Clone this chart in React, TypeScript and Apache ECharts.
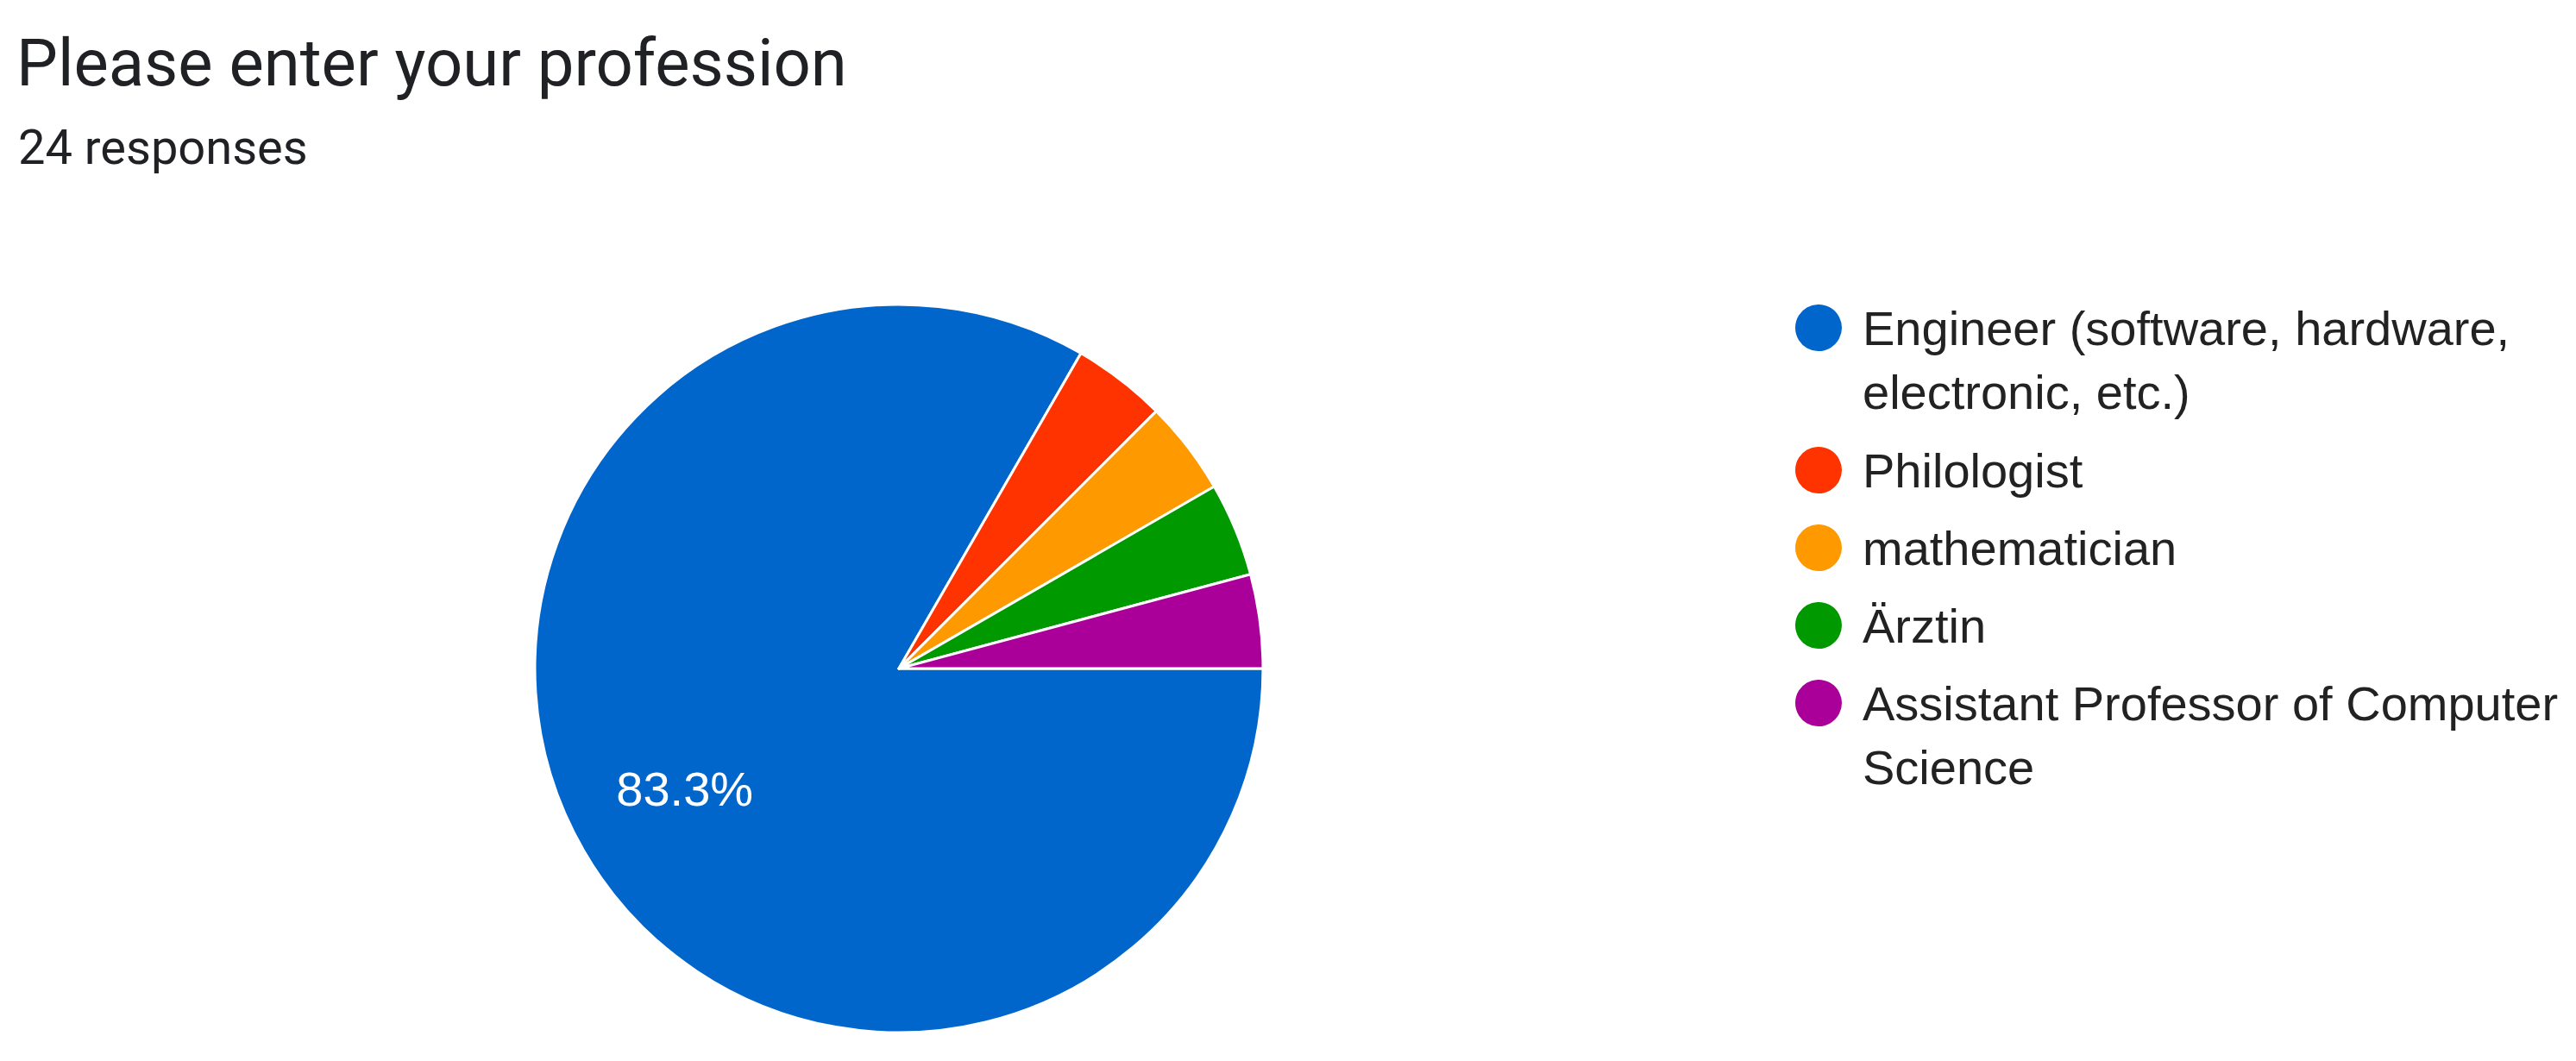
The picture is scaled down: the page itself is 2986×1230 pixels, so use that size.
import React, { useEffect, useRef } from 'react';
import * as echarts from 'echarts';

const professions = [
  'Engineer (software, hardware, electronic, etc.)',
  'Philologist',
  'mathematician',
  'Ärztin',
  'Assistant Professor of Computer Science',
];
const responses = [20, 1, 1, 1, 1];
const legendLabels = [
  'Engineer (software, hardware,\nelectronic, etc.)',
  'Philologist',
  'mathematician',
  'Ärztin',
  'Assistant Professor of Computer\nScience',
];
const sliceColors = ['#0066CC', '#FF3300', '#FF9900', '#009900', '#AA0099'];
const chartTitle = 'Please enter your profession';

export default function App() {
  const ref = useRef<HTMLDivElement>(null);

  useEffect(() => {
    document.body.style.margin = '0';
    if (!ref.current) return;
    const chart = echarts.init(ref.current, undefined, { renderer: 'svg' });
    const total = responses.reduce((a, b) => a + b, 0);

    const LEG_LEFT = 2079;
    const LINE_H = 74;
    const firstCenter = 380;
    const rowStep = 90;
    const twoLineExtra = 75;
    const centers: number[] = [];
    let c = firstCenter;
    professions.forEach((_, i) => {
      centers.push(c);
      const lines = legendLabels[i].split('\n').length;
      c += rowStep + (lines - 1) * twoLineExtra;
    });

    const legends = professions.map((name, i) => {
      const lines = legendLabels[i].split('\n').length;
      // pad above with empty lines so the first line is centred on the marker
      const totalLines = lines * 2 - 1;
      const halfBox = (LINE_H * totalLines) / 2;
      return {
        orient: 'vertical',
        left: LEG_LEFT,
        top: centers[i] - Math.max(halfBox, 28),
        padding: 0,
        itemWidth: 56,
        itemHeight: 56,
        icon: 'circle',
        selectedMode: false,
        data: [{ name }],
        formatter: (n: string) => {
          const lbl = legendLabels[professions.indexOf(n)];
          const k = lbl.split('\n').length;
          return '\n'.repeat(k - 1) + lbl;
        },
        textStyle: {
          fontSize: 56,
          lineHeight: LINE_H,
          color: '#222222',
          fontFamily: 'Arial, "Liberation Sans", sans-serif',
          padding: [0, 0, 0, 18],
        },
      };
    });

    chart.setOption({
      animation: false,
      backgroundColor: '#ffffff',
      title: [
        {
          text: chartTitle,
          left: 19,
          top: 35,
          padding: 0,
          textStyle: {
            fontSize: 76,
            lineHeight: 76,
            fontWeight: 'normal',
            color: '#202124',
            fontFamily: 'Roboto, Arial, sans-serif',
          },
        },
        {
          text: `${total} responses`,
          left: 21,
          top: 143,
          padding: 0,
          textStyle: {
            fontSize: 56,
            lineHeight: 56,
            fontWeight: 'normal',
            color: '#202124',
            fontFamily: 'Roboto, Arial, sans-serif',
          },
        },
      ],
      legend: legends,
      series: [
        {
          type: 'pie',
          center: [1042, 775],
          radius: [0, 422],
          startAngle: 0,
          clockwise: true,
          percentPrecision: 1,
          avoidLabelOverlap: false,
          silent: true,
          itemStyle: { borderColor: '#ffffff', borderWidth: 3 },
          label: {
            show: true,
            position: 'inside',
            formatter: (p: any) => (p.dataIndex === 0 ? `${p.percent}%` : ''),
            color: '#ffffff',
            fontSize: 56,
            fontFamily: 'Arial, "Liberation Sans", sans-serif',
          },
          labelLine: { show: false },
          labelLayout: { dx: -63, dy: 32 },
          data: professions.map((name, i) => ({
            name,
            value: responses[i],
            itemStyle: { color: sliceColors[i] },
          })),
        },
      ],
    });
    return () => chart.dispose();
  }, []);

  return <div ref={ref} style={{ width: 2986, height: 1230 }} />;
}
